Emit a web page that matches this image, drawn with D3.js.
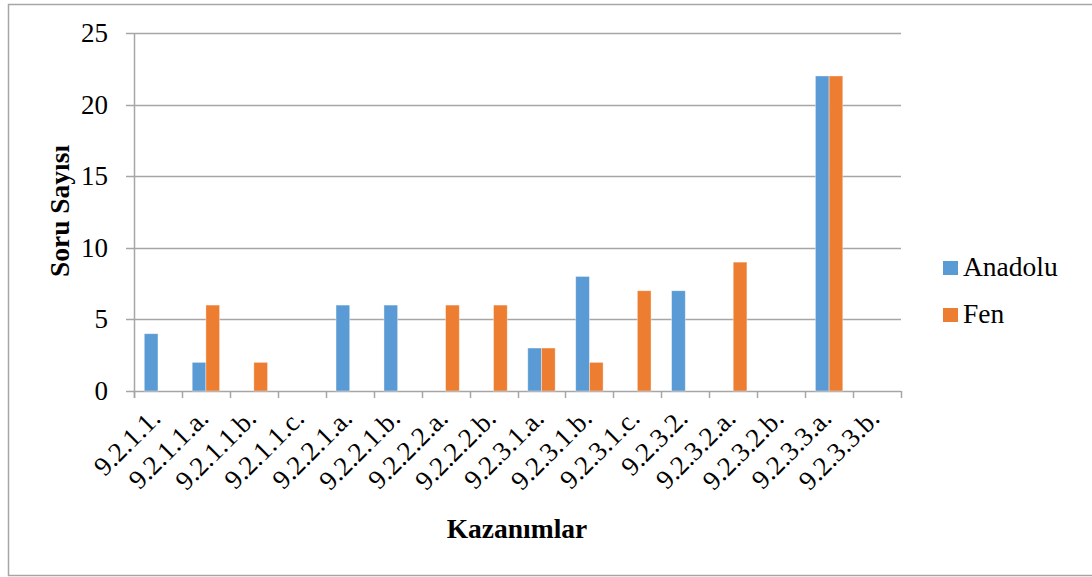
<!DOCTYPE html>
<html>
<head>
<meta charset="utf-8">
<script src="https://cdn.jsdelivr.net/npm/d3@7"></script>
<style>
    body { margin: 0; background: #fff; }
    svg text { font-family: "Liberation Serif", "Times New Roman", serif; fill: #000; }
</style>
</head>
<body>
<svg id="chart" width="1092" height="577"></svg>
<script>
// categories (kazanımlar) and question counts per school type
var categories = ["9.2.1.1.", "9.2.1.1.a.", "9.2.1.1.b.", "9.2.1.1.c.", "9.2.2.1.a.", "9.2.2.1.b.",
    "9.2.2.2.a.", "9.2.2.2.b.", "9.2.3.1.a.", "9.2.3.1.b.", "9.2.3.1.c.", "9.2.3.2.",
    "9.2.3.2.a.", "9.2.3.2.b.", "9.2.3.3.a.", "9.2.3.3.b."];
var anadolu = [4, 2, 0, 0, 6, 6, 0, 0, 3, 8, 0, 7, 0, 0, 22, 0];
var fen = [0, 6, 2, 0, 0, 0, 6, 6, 3, 2, 7, 0, 9, 0, 22, 0];
var seriesNames = ["Anadolu", "Fen"];
var seriesColors = ["#5B9BD5", "#ED7D31"];
var yTicks = [0, 5, 10, 15, 20, 25];

var svg = d3.select("#chart");
var margin = {left: 134, right: 191, top: 33, bottom: 186};
var width = 1092 - margin.left - margin.right;
var height = 577 - margin.top - margin.bottom;
var serif = '"Liberation Serif", "Times New Roman", serif';

// outer chart border
svg.append("rect")
    .attr("x", 8.5).attr("y", 4.5)
    .attr("width", 1090).attr("height", 571)
    .attr("fill", "none").attr("stroke", "#a6a6a6").attr("stroke-width", 1.5);

var g = svg.append("g").attr("transform", "translate(" + margin.left + "," + margin.top + ")");

var x = d3.scaleBand().domain(categories).range([0, width]).padding(0);
// gap width 150% -> two bars take 2/3.5 of the category
var barW = x.bandwidth() / 3.5;
var y = d3.scaleLinear().domain([0, 25]).range([height, 0]);

// gridlines with small ticks to the left
g.selectAll(".grid").data(yTicks).enter()
    .append("line").attr("class", "grid")
    .attr("x1", -8).attr("x2", width)
    .attr("y1", function(d){ return Math.round(y(d)) + 0.5; })
    .attr("y2", function(d){ return Math.round(y(d)) + 0.5; })
    .attr("stroke", "#a6a6a6").attr("stroke-width", 1.5);

g.selectAll(".ylab").data(yTicks).enter()
    .append("text").attr("class", "ylab")
    .attr("x", -26).attr("y", function(d){ return y(d); })
    .attr("dy", "0.33em")
    .attr("text-anchor", "end")
    .style("font-family", serif)
    .style("font-size", "27px")
    .text(function(d){ return d; });

// y axis line
g.append("line")
    .attr("x1", 0.5).attr("x2", 0.5).attr("y1", 0).attr("y2", height + 7)
    .attr("stroke", "#a6a6a6").attr("stroke-width", 1.5);

// category tick marks
g.selectAll(".xtick").data(categories.concat(["end"])).enter()
    .append("line").attr("class", "xtick")
    .attr("x1", function(d, i){ return Math.round(i * x.step()) + 0.5; })
    .attr("x2", function(d, i){ return Math.round(i * x.step()) + 0.5; })
    .attr("y1", height).attr("y2", height + 7)
    .attr("stroke", "#a6a6a6").attr("stroke-width", 1.5);

// bars
[anadolu, fen].forEach(function(series, s){
    g.selectAll(".bar" + s).data(series).enter()
        .append("rect").attr("class", "bar" + s)
        .attr("x", function(d, i){ return x(categories[i]) + x.bandwidth() / 2 - barW + s * barW; })
        .attr("width", barW)
        .attr("y", function(d){ return y(d); })
        .attr("height", function(d){ return height - y(d); })
        .attr("fill", seriesColors[s])
        .attr("stroke", function(d){ return d > 0 ? "rgba(255,255,255,0.5)" : "none"; })
        .attr("stroke-width", 0.75);
});

// rotated category labels
g.selectAll(".xlab").data(categories).enter()
    .append("text").attr("class", "xlab")
    .attr("transform", function(d){
        return "translate(" + (x(d) + x.bandwidth() / 2 + 4) + "," + (height + 29) + ") rotate(-45)";
    })
    .attr("text-anchor", "end")
    .style("font-family", serif)
    .style("font-size", "27px")
    .text(function(d){ return d; });

// axis titles
svg.append("text")
    .attr("transform", "translate(69," + (margin.top + height / 2 - 1) + ") rotate(-90)")
    .attr("text-anchor", "middle")
    .style("font-family", serif)
    .style("font-size", "27.5px").style("font-weight", "bold")
    .text("Soru Sayısı");

svg.append("text")
    .attr("x", 517).attr("y", 538)
    .attr("text-anchor", "middle")
    .style("font-family", serif)
    .style("font-size", "27.5px").style("font-weight", "bold")
    .text("Kazanımlar");

// legend
var legend = svg.selectAll(".legend").data(seriesNames).enter()
    .append("g").attr("class", "legend")
    .attr("transform", function(d, i){ return "translate(943," + (268 + i * 47) + ")"; });
legend.append("rect")
    .attr("x", 0).attr("y", -7).attr("width", 15).attr("height", 14)
    .attr("fill", function(d, i){ return seriesColors[i]; });
legend.append("text")
    .attr("x", 20).attr("y", 8)
    .style("font-family", serif)
    .style("font-size", "27.5px")
    .text(function(d){ return d; });
</script>
</body>
</html>
